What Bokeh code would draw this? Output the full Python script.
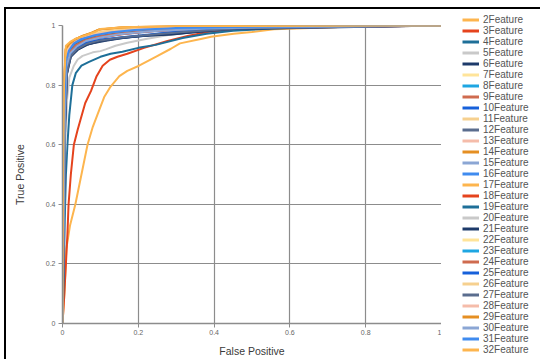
from bokeh.plotting import figure
from bokeh.layouts import row
from bokeh.models import Legend, LegendItem, FixedTicker
from bokeh.embed import file_html
from bokeh.resources import INLINE

# ---------------- data ----------------
names = ["%dFeature" % k for k in range(2, 33)]

palette = ["#FDB54E", "#E5431D", "#1E6F98", "#C9C9C9", "#1D3A6A",
           "#FFE49A", "#1EA6E2", "#CF6B4F", "#1660DA", "#F6D08F",
           "#5A6D8E", "#F5BCAA", "#E58F22", "#8BA6D4", "#3F8BEF"]

fpr = {
    "2Feature": [0, 0.005, 0.01, 0.02, 0.034, 0.05, 0.066, 0.08, 0.092, 0.11, 0.127, 0.15, 0.171, 0.202, 0.246, 0.286, 0.31, 0.365, 0.392, 0.452, 0.5, 0.558, 0.655, 0.75, 0.85, 1.0],
    "3Feature": [0, 0.004, 0.009, 0.013, 0.016, 0.022, 0.03, 0.04, 0.048, 0.06, 0.075, 0.09, 0.106, 0.125, 0.145, 0.171, 0.215, 0.277, 0.33, 0.383, 0.45, 0.55, 0.7, 1.0],
    "4Feature": [0, 0.003, 0.006, 0.009, 0.013, 0.018, 0.022, 0.026, 0.035, 0.05, 0.07, 0.1, 0.127, 0.158, 0.2, 0.246, 0.317, 0.38, 0.45, 0.55, 0.7, 1.0],
    "5Feature": [0, 0.002, 0.005, 0.008, 0.012, 0.018, 0.03, 0.04, 0.053, 0.08, 0.1, 0.114, 0.14, 0.171, 0.22, 0.28, 0.35, 0.45, 0.6, 1.0],
    "6Feature": [0, 0.003, 0.006, 0.01, 0.018, 0.03, 0.053, 0.08, 0.114, 0.16, 0.202, 0.29, 0.4, 0.5, 1.0],
    "7Feature": [0, 0.002, 0.005, 0.01, 0.02, 0.04, 0.07, 0.1, 0.15, 0.25, 0.4, 1.0],
    "8Feature": [0, 0.002, 0.004, 0.008, 0.015, 0.03, 0.05, 0.08, 0.12, 0.2, 0.35, 0.6, 1.0],
    "9Feature": [0, 0.003, 0.006, 0.01, 0.02, 0.04, 0.07, 0.11, 0.17, 0.25, 0.45, 0.75, 1.0],
    "10Feature": [0, 0.003, 0.006, 0.012, 0.02, 0.035, 0.06, 0.1, 0.15, 0.211, 0.273, 0.38, 0.6, 1.0],
    "11Feature": [0, 0.002, 0.004, 0.008, 0.016, 0.03, 0.06, 0.1, 0.16, 0.26, 0.42, 1.0],
    "12Feature": [0, 0.003, 0.007, 0.012, 0.022, 0.04, 0.07, 0.11, 0.16, 0.23, 0.33, 0.48, 1.0],
    "13Feature": [0, 0.002, 0.005, 0.009, 0.017, 0.03, 0.055, 0.09, 0.14, 0.22, 0.38, 1.0],
    "14Feature": [0, 0.002, 0.004, 0.009, 0.02, 0.035, 0.055, 0.079, 0.097, 0.158, 0.3, 1.0],
    "15Feature": [0, 0.003, 0.006, 0.01, 0.02, 0.04, 0.065, 0.1, 0.15, 0.24, 0.4, 0.66, 1.0],
    "16Feature": [0, 0.002, 0.005, 0.01, 0.018, 0.032, 0.055, 0.09, 0.14, 0.2, 0.3, 0.5, 1.0],
    "17Feature": [0, 0.002, 0.005, 0.009, 0.016, 0.03, 0.05, 0.08, 0.12, 0.19, 0.32, 1.0],
    "18Feature": [0, 0.003, 0.006, 0.01, 0.02, 0.035, 0.06, 0.1, 0.15, 0.22, 0.36, 0.55, 1.0],
    "19Feature": [0, 0.002, 0.005, 0.01, 0.018, 0.035, 0.06, 0.095, 0.14, 0.2, 0.31, 0.5, 1.0],
    "20Feature": [0, 0.002, 0.004, 0.008, 0.015, 0.03, 0.05, 0.085, 0.13, 0.2, 0.33, 1.0],
    "21Feature": [0, 0.003, 0.007, 0.012, 0.022, 0.04, 0.065, 0.1, 0.15, 0.22, 0.3, 0.45, 1.0],
    "22Feature": [0, 0.002, 0.004, 0.008, 0.016, 0.03, 0.055, 0.09, 0.14, 0.23, 0.4, 1.0],
    "23Feature": [0, 0.002, 0.005, 0.009, 0.017, 0.03, 0.05, 0.08, 0.12, 0.18, 0.3, 0.6, 1.0],
    "24Feature": [0, 0.003, 0.006, 0.01, 0.019, 0.035, 0.06, 0.095, 0.15, 0.24, 0.42, 0.8, 1.0],
    "25Feature": [0, 0.003, 0.006, 0.011, 0.02, 0.035, 0.06, 0.1, 0.15, 0.21, 0.29, 0.42, 1.0],
    "26Feature": [0, 0.002, 0.004, 0.008, 0.016, 0.03, 0.055, 0.09, 0.13, 0.21, 0.35, 1.0],
    "27Feature": [0, 0.003, 0.007, 0.012, 0.021, 0.038, 0.065, 0.1, 0.155, 0.225, 0.32, 0.46, 1.0],
    "28Feature": [0, 0.002, 0.005, 0.009, 0.016, 0.03, 0.055, 0.09, 0.14, 0.22, 0.4, 0.78, 1.0],
    "29Feature": [0, 0.002, 0.004, 0.008, 0.018, 0.033, 0.052, 0.075, 0.095, 0.15, 0.28, 1.0],
    "30Feature": [0, 0.003, 0.006, 0.01, 0.02, 0.038, 0.062, 0.1, 0.15, 0.23, 0.38, 0.64, 1.0],
    "31Feature": [0, 0.002, 0.005, 0.009, 0.017, 0.03, 0.05, 0.085, 0.13, 0.19, 0.3, 0.52, 1.0],
    "32Feature": [0, 0.002, 0.004, 0.009, 0.02, 0.035, 0.06, 0.085, 0.1, 0.16, 0.3, 1.0],
}

tpr = {
    "2Feature": [0, 0.1, 0.25, 0.33, 0.4, 0.5, 0.6, 0.66, 0.70, 0.76, 0.795, 0.83, 0.848, 0.865, 0.895, 0.922, 0.94, 0.955, 0.962, 0.972, 0.978, 0.987, 0.992, 0.996, 0.998, 1.0],
    "3Feature": [0, 0.08, 0.2, 0.3, 0.4, 0.5, 0.6, 0.65, 0.686, 0.74, 0.78, 0.83, 0.865, 0.885, 0.895, 0.905, 0.925, 0.948, 0.965, 0.978, 0.986, 0.992, 0.997, 1.0],
    "4Feature": [0, 0.15, 0.35, 0.5, 0.6, 0.7, 0.75, 0.8, 0.84, 0.865, 0.878, 0.895, 0.905, 0.912, 0.925, 0.935, 0.958, 0.972, 0.982, 0.99, 0.996, 1.0],
    "5Feature": [0, 0.2, 0.45, 0.62, 0.75, 0.825, 0.865, 0.886, 0.898, 0.91, 0.914, 0.92, 0.932, 0.942, 0.955, 0.968, 0.98, 0.99, 0.996, 1.0],
    "6Feature": [0, 0.3, 0.65, 0.82, 0.898, 0.915, 0.932, 0.94, 0.949, 0.958, 0.965, 0.97, 0.985, 0.995, 1.0],
    "7Feature": [0, 0.4, 0.75, 0.89, 0.925, 0.945, 0.96, 0.97, 0.98, 0.99, 0.997, 1.0],
    "8Feature": [0, 0.45, 0.72, 0.88, 0.92, 0.945, 0.958, 0.968, 0.978, 0.987, 0.994, 0.997, 1.0],
    "9Feature": [0, 0.35, 0.7, 0.86, 0.91, 0.935, 0.952, 0.963, 0.974, 0.984, 0.992, 0.996, 1.0],
    "10Feature": [0, 0.3, 0.66, 0.85, 0.9, 0.922, 0.94, 0.95, 0.958, 0.965, 0.976, 0.99, 0.997, 1.0],
    "11Feature": [0, 0.42, 0.74, 0.885, 0.925, 0.946, 0.962, 0.972, 0.982, 0.991, 0.997, 1.0],
    "12Feature": [0, 0.3, 0.68, 0.84, 0.895, 0.92, 0.938, 0.95, 0.96, 0.968, 0.978, 0.99, 1.0],
    "13Feature": [0, 0.42, 0.73, 0.88, 0.92, 0.944, 0.96, 0.971, 0.981, 0.99, 0.996, 1.0],
    "14Feature": [0, 0.5, 0.8, 0.925, 0.94, 0.955, 0.966, 0.976, 0.987, 0.993, 0.998, 1.0],
    "15Feature": [0, 0.35, 0.7, 0.86, 0.905, 0.93, 0.948, 0.96, 0.97, 0.98, 0.99, 0.996, 1.0],
    "16Feature": [0, 0.42, 0.74, 0.88, 0.915, 0.938, 0.954, 0.966, 0.976, 0.984, 0.99, 0.996, 1.0],
    "17Feature": [0, 0.45, 0.76, 0.89, 0.925, 0.948, 0.962, 0.973, 0.982, 0.99, 0.996, 1.0],
    "18Feature": [0, 0.35, 0.7, 0.86, 0.905, 0.93, 0.948, 0.96, 0.97, 0.98, 0.99, 0.996, 1.0],
    "19Feature": [0, 0.4, 0.72, 0.87, 0.912, 0.936, 0.952, 0.964, 0.974, 0.983, 0.991, 0.996, 1.0],
    "20Feature": [0, 0.45, 0.75, 0.89, 0.922, 0.944, 0.96, 0.971, 0.98, 0.989, 0.996, 1.0],
    "21Feature": [0, 0.3, 0.67, 0.84, 0.896, 0.918, 0.936, 0.948, 0.957, 0.966, 0.972, 0.988, 1.0],
    "22Feature": [0, 0.45, 0.76, 0.89, 0.926, 0.948, 0.963, 0.974, 0.983, 0.991, 0.997, 1.0],
    "23Feature": [0, 0.42, 0.74, 0.88, 0.918, 0.942, 0.957, 0.968, 0.978, 0.986, 0.993, 0.997, 1.0],
    "24Feature": [0, 0.36, 0.7, 0.865, 0.91, 0.934, 0.951, 0.963, 0.973, 0.983, 0.991, 0.996, 1.0],
    "25Feature": [0, 0.32, 0.67, 0.85, 0.9, 0.925, 0.942, 0.953, 0.96, 0.967, 0.977, 0.99, 1.0],
    "26Feature": [0, 0.45, 0.76, 0.89, 0.925, 0.947, 0.962, 0.973, 0.983, 0.991, 0.997, 1.0],
    "27Feature": [0, 0.3, 0.67, 0.845, 0.897, 0.92, 0.939, 0.95, 0.96, 0.968, 0.978, 0.99, 1.0],
    "28Feature": [0, 0.42, 0.73, 0.88, 0.92, 0.944, 0.96, 0.971, 0.98, 0.989, 0.995, 0.998, 1.0],
    "29Feature": [0, 0.5, 0.8, 0.92, 0.938, 0.953, 0.965, 0.975, 0.986, 0.993, 0.998, 1.0],
    "30Feature": [0, 0.35, 0.7, 0.86, 0.906, 0.93, 0.948, 0.96, 0.971, 0.981, 0.99, 0.996, 1.0],
    "31Feature": [0, 0.42, 0.74, 0.88, 0.916, 0.94, 0.955, 0.967, 0.977, 0.985, 0.992, 0.996, 1.0],
    "32Feature": [0, 0.5, 0.8, 0.932, 0.945, 0.956, 0.967, 0.978, 0.988, 0.994, 0.998, 1.0],
}

ticks = [0, 0.2, 0.4, 0.6, 0.8, 1]
tick_labels = {0: "0", 0.2: "0.2", 0.4: "0.4", 0.6: "0.6", 0.8: "0.8", 1: "1"}

# ---------------- main plot ----------------
p = figure(width=435, height=350, output_backend="svg", toolbar_location=None,
           x_range=(0, 1), y_range=(0, 1),
           min_border_left=56, min_border_right=0, min_border_top=16, min_border_bottom=36,
           x_axis_label="False Positive", y_axis_label="True Positive")
p.outline_line_color = None
p.background_fill_color = "white"
p.border_fill_color = "white"

for i, n in enumerate(names):
    p.line(fpr[n], tpr[n], line_color=palette[i % 15], line_width=2)

for ax in (p.xaxis[0], p.yaxis[0]):
    ax.ticker = FixedTicker(ticks=ticks)
    ax.major_label_overrides = tick_labels
    ax.minor_tick_line_color = None
    ax.major_tick_out = 4
    ax.major_tick_in = 0
    ax.major_tick_line_color = "#8c8c8c"
    ax.axis_line_color = "#8c8c8c"
    ax.axis_line_width = 1.5
    ax.major_label_text_font = "Liberation Sans"
    ax.major_label_text_font_size = "7px"
    ax.major_label_text_color = "#666666"
    ax.axis_label_text_font = "Liberation Sans"
    ax.axis_label_text_font_size = "10.5px"
    ax.axis_label_text_font_style = "normal"
    ax.axis_label_text_color = "#3a3a3a"

p.xaxis.major_label_standoff = 2
p.xaxis.axis_label_standoff = 7
p.yaxis.major_label_standoff = 3
p.yaxis.axis_label_standoff = 17
p.yaxis.major_label_orientation = "horizontal"

for g in (p.xgrid[0], p.ygrid[0]):
    g.ticker = FixedTicker(ticks=ticks)
    g.grid_line_color = "#8c8c8c"
    g.grid_line_width = 1.2

# ---------------- legend panel ----------------
# same series drawn into a side figure whose visible range shows nothing;
# its legend sits in the figure's left-hand panel
q = figure(width=99, height=350, output_backend="svg", toolbar_location=None,
           x_range=(5, 6), y_range=(5, 6), min_border=0)
q.axis.visible = False
q.grid.visible = False
q.outline_line_color = None
q.background_fill_color = "white"
q.border_fill_color = "white"

items = []
for i, n in enumerate(names):
    r = q.line(fpr[n], tpr[n], line_color=palette[i % 15], line_width=3)
    items.append(LegendItem(label=n, renderers=[r]))

legend = Legend(items=items, location=(21, -32), orientation="vertical",
                glyph_width=17, glyph_height=11, label_height=11, spacing=0,
                padding=0, margin=0, label_standoff=4,
                label_text_font="Liberation Sans", label_text_font_size="10px",
                label_text_color="#555555", border_line_color=None,
                background_fill_alpha=0)
q.add_layout(legend, "left")

layout = row(p, q, spacing=0,
             styles={"margin-left": "4px", "margin-top": "7px",
                     "border-left": "2px solid #000", "border-top": "2px solid #000"})

open("out.html", "w").write(file_html(layout, INLINE))
